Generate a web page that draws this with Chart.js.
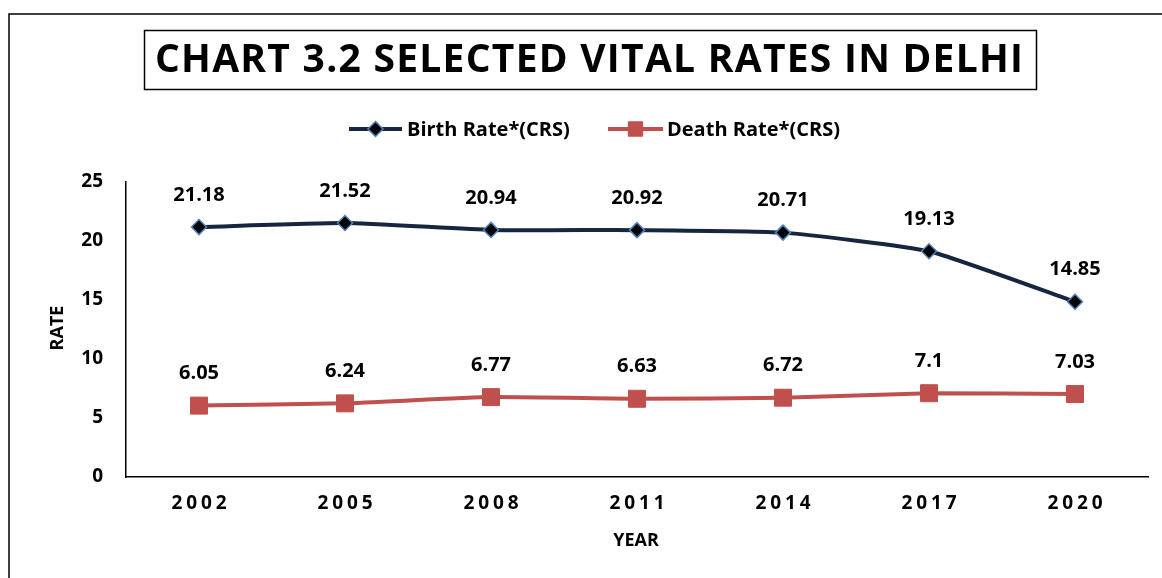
<!DOCTYPE html>
<html>
<head>
<meta charset="utf-8">
<script src="https://cdn.jsdelivr.net/npm/chart.js@4/dist/chart.umd.min.js"></script>
<style>
  html, body { margin: 0; padding: 0; background: #fff; }
  #wrap { width: 1162px; height: 578px; }
</style>
</head>
<body>
<div id="wrap"><canvas id="vitalChart" width="1162" height="578"></canvas></div>
<script>
const years = ["2002", "2005", "2008", "2011", "2014", "2017", "2020"];
const birthRate = [21.18, 21.52, 20.94, 20.92, 20.71, 19.13, 14.85];
const deathRate = [6.05, 6.24, 6.77, 6.63, 6.72, 7.1, 7.03];
const seriesNames = ["Birth Rate*(CRS)", "Death Rate*(CRS)"];
const chartTitle = "CHART 3.2 SELECTED VITAL RATES IN DELHI";

const FONT = '"Open Sans", "DejaVu Sans", sans-serif';
const NAVY = "#17263f";
const BLUE = "#4f81bd";
const RED = "#c0504d";

// draw text with spread letters so it fills a given width
function spacedText(ctx, text, cx, cy, width) {
    ctx.letterSpacing = "0px";
    const w = ctx.measureText(text).width;
    const sp = (width - w) / (text.length - 1);
    ctx.letterSpacing = sp + "px";
    ctx.textAlign = "left";
    ctx.fillText(text, cx - width / 2, cy);
    ctx.letterSpacing = "0px";
}

function drawMarker(ctx, ds, x, y) {
    ctx.save();
    ctx.fillStyle = ds.pointBackgroundColor;
    ctx.strokeStyle = ds.pointBorderColor;
    ctx.lineWidth = ds.pointBorderWidth;
    ctx.beginPath();
    if (ds.pointStyle === "rectRot") {
        const r = ds.pointRadius;
        ctx.moveTo(x - r, y); ctx.lineTo(x, y - r); ctx.lineTo(x + r, y); ctx.lineTo(x, y + r);
    } else {
        const s = ds.pointRadius * Math.SQRT1_2 * 0.85;
        ctx.rect(x - s, y - s, 2 * s, 2 * s);
    }
    ctx.closePath();
    ctx.fill();
    ctx.stroke();
    ctx.restore();
}

const decorPlugin = {
    id: "decor",
    beforeDraw(chart) {
        const ctx = chart.ctx;
        ctx.save();
        ctx.fillStyle = "#fff";
        ctx.fillRect(0, 0, chart.width, chart.height);
        // outer frame
        ctx.strokeStyle = "#000";
        ctx.lineWidth = 1.5;
        ctx.beginPath();
        ctx.moveTo(9, 578); ctx.lineTo(9, 14); ctx.lineTo(1162, 14);
        ctx.stroke();
        // title box
        ctx.lineWidth = 1.5;
        ctx.strokeRect(144.5, 30.5, 892, 59);
        ctx.fillStyle = "#000";
        ctx.font = "bold 39px " + FONT;
        ctx.textBaseline = "middle";
        spacedText(ctx, chartTitle, 589, 61, 868);

        // legend
        ctx.font = "bold 20px " + FONT;
        ctx.textAlign = "left";
        const legendPos = [{ x0: 349, x1: 402, tx: 407 }, { x0: 608, x1: 663, tx: 667 }];
        chart.data.datasets.forEach((ds, i) => {
            const p = legendPos[i];
            ctx.strokeStyle = ds.borderColor;
            ctx.lineWidth = ds.borderWidth;
            ctx.beginPath();
            ctx.moveTo(p.x0, 129); ctx.lineTo(p.x1, 129);
            ctx.stroke();
            drawMarker(ctx, ds, (p.x0 + p.x1) / 2, 129);
            ctx.fillStyle = "#000";
            ctx.fillText(ds.label, p.tx, 130);
        });

        // axis titles
        ctx.font = "bold 18px " + FONT;
        ctx.textAlign = "center";
        ctx.fillText("YEAR", 636, 541);
        ctx.save();
        ctx.translate(58, 328);
        ctx.rotate(-Math.PI / 2);
        ctx.fillText("RATE", 0, 0);
        ctx.restore();

        // spaced x tick labels
        const xs = chart.scales.x;
        ctx.font = "bold 19px " + FONT;
        years.forEach((lab, i) => {
            spacedText(ctx, lab, xs.getPixelForTick(i), 504, 55);
        });
        ctx.restore();
    },
    afterDatasetsDraw(chart) {
        const ctx = chart.ctx;
        ctx.save();
        ctx.font = "bold 20px " + FONT;
        ctx.fillStyle = "#000";
        ctx.textAlign = "center";
        ctx.textBaseline = "middle";
        chart.data.datasets.forEach((ds, i) => {
            chart.getDatasetMeta(i).data.forEach((pt, j) => {
                ctx.fillText(String(ds.data[j]), pt.x, pt.y - 32);
            });
        });
        ctx.restore();
    }
};

new Chart(document.getElementById("vitalChart"), {
    type: "line",
    data: {
        labels: years,
        datasets: [
            {
                label: seriesNames[0],
                data: birthRate,
                borderColor: NAVY,
                borderWidth: 4,
                pointStyle: "rectRot",
                pointRadius: 7.5,
                pointHoverRadius: 7.5,
                pointBackgroundColor: "#000",
                pointBorderColor: BLUE,
                pointBorderWidth: 1.5,
                tension: 0.15
            },
            {
                label: seriesNames[1],
                data: deathRate,
                borderColor: RED,
                borderWidth: 4,
                pointStyle: "rect",
                pointRadius: 12,
                pointHoverRadius: 12,
                pointBackgroundColor: RED,
                pointBorderColor: RED,
                pointBorderWidth: 1,
                tension: 0.15
            }
        ]
    },
    options: {
        responsive: false,
        animation: false,
        events: [],
        layout: { padding: { top: 182, right: 14, left: 0, bottom: 0 } },
        plugins: {
            legend: { display: false },
            title: { display: false },
            tooltip: { enabled: false }
        },
        scales: {
            x: {
                offset: true,
                grid: { display: false, drawTicks: false },
                border: { color: "#000", width: 1.5 },
                ticks: { display: false },
                afterFit(scale) { scale.height = 101; }
            },
            y: {
                min: 0,
                max: 25,
                grid: { display: false, drawTicks: false },
                border: { color: "#000", width: 1.5 },
                ticks: {
                    stepSize: 5,
                    padding: 23,
                    color: "#000",
                    font: { family: FONT, size: 19, weight: "bold" }
                },
                afterFit(scale) { scale.width = 126; }
            }
        }
    },
    plugins: [decorPlugin]
});
</script>
</body>
</html>
